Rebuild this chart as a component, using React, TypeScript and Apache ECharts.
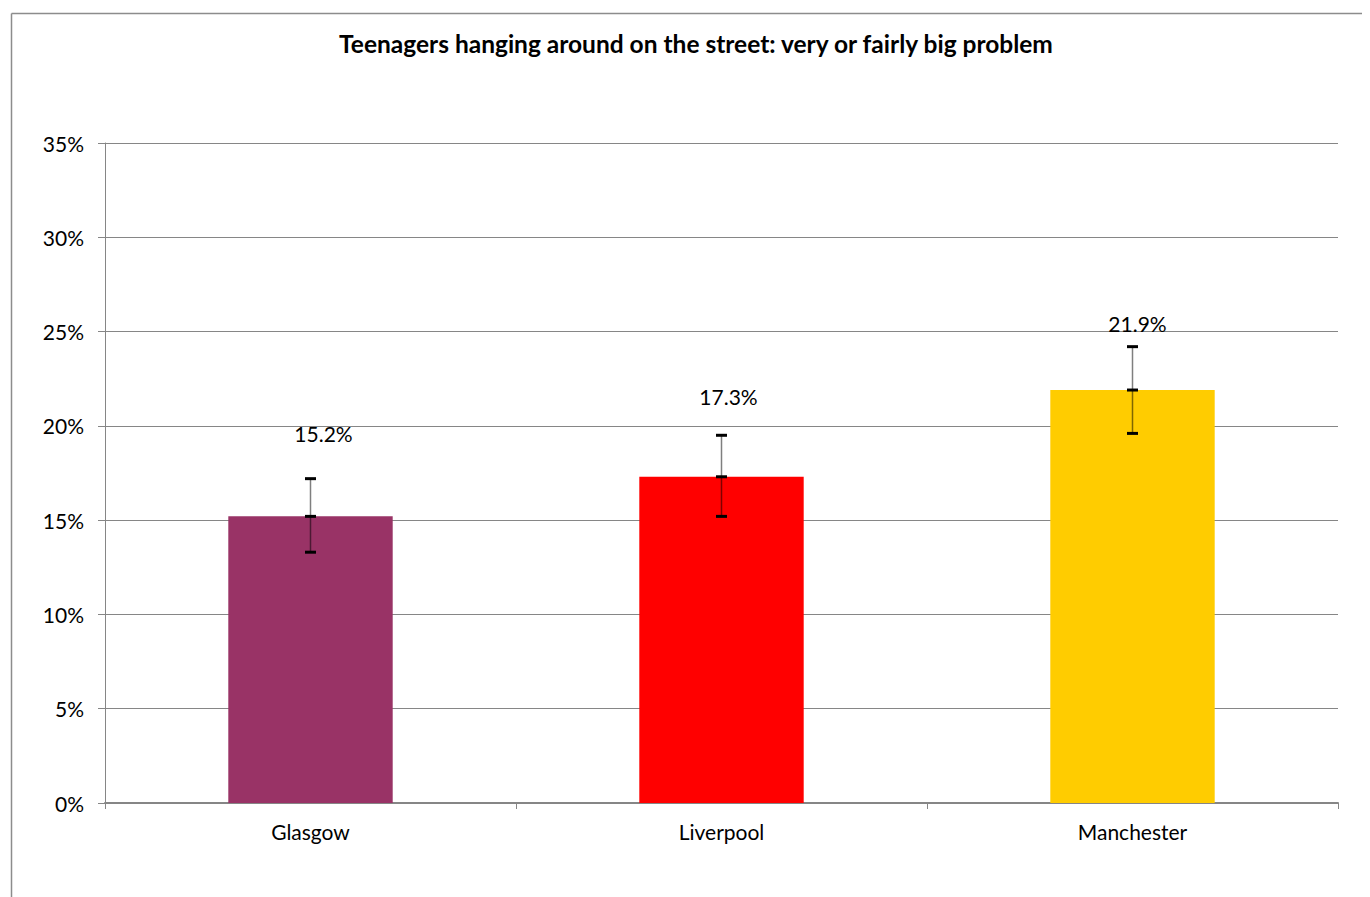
import React, { useEffect, useRef } from "react";
import * as echarts from "echarts";

const categories = ["Glasgow", "Liverpool", "Manchester"];
const values = [15.2, 17.3, 21.9];
const errLow = [13.3, 15.2, 19.6];
const errHigh = [17.2, 19.5, 24.2];
const barColors = ["#993366", "#FF0000", "#FFCC00"];
const yTicks = [0, 5, 10, 15, 20, 25, 30, 35];
// label placement tweaks (pixels): [dx, dy]
const labelOffsets = [
  [13, -72],
  [7, -70],
  [5, -56],
];

const FONT = "Lato";

export default function App() {
  const ref = useRef<HTMLDivElement>(null);
  useEffect(() => {
    if (!ref.current) return;
    const chart = echarts.init(ref.current, undefined, { renderer: "svg" });
    chart.setOption({
      animation: false,
      backgroundColor: "#ffffff",
      title: {
        text: "Teenagers hanging around on the street: very or fairly big problem",
        left: 683,
        top: 18,
        textAlign: "center",
        textStyle: { fontFamily: FONT, fontSize: 24.5, fontWeight: "bold", color: "#000" },
      },
      graphic: [
        { type: "line", shape: { x1: 3.5, y1: 5.5, x2: 1400, y2: 5.5 }, style: { stroke: "#8c8c8c", lineWidth: 1.5 } },
        { type: "line", shape: { x1: 3.5, y1: 5.5, x2: 3.5, y2: 1000 }, style: { stroke: "#8c8c8c", lineWidth: 1.5 } },
      ],
      grid: { left: 97, top: 135, right: 32, bottom: 94, containLabel: false },
      xAxis: {
        type: "category",
        data: categories,
        axisLine: { show: true, lineStyle: { color: "#868686", width: 2 } },
        axisTick: { show: true, alignWithLabel: false, length: 6, lineStyle: { color: "#868686" } },
        axisLabel: { fontFamily: FONT, fontSize: 21, color: "#000", margin: 18 },
      },
      yAxis: {
        type: "value",
        min: yTicks[0],
        max: yTicks[yTicks.length - 1],
        interval: 5,
        axisLine: { show: true, lineStyle: { color: "#868686" } },
        axisTick: { show: true, length: 7, lineStyle: { color: "#868686" } },
        axisLabel: { fontFamily: FONT, fontSize: 21, color: "#000", margin: 21, formatter: "{value}%" },
        splitLine: { show: true, lineStyle: { color: "#868686", width: 1 } },
      },
      series: [
        {
          type: "bar",
          barWidth: "40%",
          data: values.map((v, i) => ({
            value: v,
            itemStyle: { color: barColors[i] },
            label: { offset: labelOffsets[i] },
          })),
          label: {
            show: true,
            position: "top",
            distance: 0,
            fontFamily: FONT,
            fontSize: 21,
            color: "#000",
            formatter: (p: any) => p.value.toFixed(1) + "%",
          },
          z: 2,
        },
        {
          type: "custom",
          z: 5,
          data: values.map((v, i) => [i, v, errLow[i], errHigh[i]]),
          renderItem: (params: any, api: any) => {
            const idx = api.value(0);
            const pv = api.coord([idx, api.value(1)]);
            const pl = api.coord([idx, api.value(2)]);
            const ph = api.coord([idx, api.value(3)]);
            const hw = 5.5;
            const cap = (p: number[]) => ({
              type: "line",
              shape: { x1: p[0] - hw, y1: p[1], x2: p[0] + hw, y2: p[1] },
              style: { stroke: "#000", lineWidth: 3 },
            });
            return {
              type: "group",
              children: [
                {
                  type: "line",
                  shape: { x1: ph[0], y1: ph[1], x2: pl[0], y2: pl[1] },
                  style: { stroke: "rgba(0,0,0,0.5)", lineWidth: 1.5 },
                },
                cap(ph),
                cap(pv),
                cap(pl),
              ],
            };
          },
        },
      ],
    });
    return () => chart.dispose();
  }, []);
  return <div ref={ref} style={{ width: 1362, height: 889 }} />;
}
